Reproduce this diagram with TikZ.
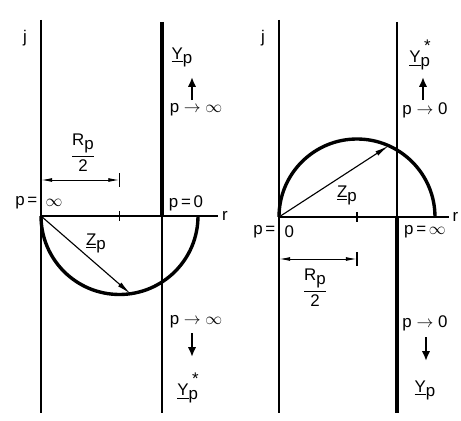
\documentclass[tikz,border=0pt]{standalone}
\usepackage{amsmath}
\usepackage{fontspec}
\setmainfont{Liberation Sans}
\usetikzlibrary{arrows.meta,calc}

\newcommand{\uvar}[1]{\underline{#1}\raisebox{-0.45ex}{p}}
\newcommand{\uvarc}[1]{\underline{#1}\raisebox{-0.45ex}{p}\kern-0.35em\raisebox{1.3ex}{*}}
\newcommand{\halfR}{$\dfrac{\mbox{R\raisebox{-0.45ex}{p}}}{\mbox{2}}$}

\begin{document}
\begin{tikzpicture}[x=0.25mm,y=-0.25mm,
    lbl/.style={font=\fontsize{12}{14}\selectfont,inner sep=1pt},
    axis/.style={line width=0.8pt},
    locus/.style={line width=2.4pt},
    dim/.style={{Latex[length=8pt,width=2.8pt]}-{Latex[length=8pt,width=2.8pt]},line width=0.7pt},
    vec/.style={-{Latex[length=10pt,width=3.6pt]},line width=0.8pt},
    move/.style={-{Latex[length=7pt,width=6pt]},line width=1.8pt}
  ]
  \useasboundingbox (0,0) rectangle (461,421);

  % left: Z_p below the r axis
  \coordinate (jLt) at (41,20);
  \coordinate (jLb) at (41,413);
  \coordinate (oL) at (41,216);
  \coordinate (cL) at (119.5,216);
  \coordinate (rL) at (218,216);
  \coordinate (yLt) at (162,22);
  \coordinate (yL0) at (162,216);
  \coordinate (yLb) at (162,413);
  \coordinate (tLa) at (119.5,211);
  \coordinate (tLb) at (119.5,221);
  \coordinate (zL) at ($(cL)+(82:78.5)$);
  \coordinate (dLa) at (41,180);
  \coordinate (dLb) at (119.5,180);
  \coordinate (bLa) at (119.5,173);
  \coordinate (bLb) at (119.5,187);
  \coordinate (uLa) at (192,100);
  \coordinate (uLb) at (192,77);
  \coordinate (wLa) at (192,333);
  \coordinate (wLb) at (192,357);

  \draw[axis] (jLt) -- (jLb);
  \draw[axis] (oL) -- (rL);
  \draw[locus] (yLt) -- (yL0);
  \draw[axis] (yL0) -- (yLb);
  \draw[axis] (tLa) -- (tLb);
  \draw[locus] (oL) arc[start angle=180,end angle=0,radius=78.5];
  \draw[vec] (oL) -- (zL);
  \draw[dim] (dLa) -- (dLb);
  \draw[axis] (bLa) -- (bLb);
  \draw[move] (uLa) -- (uLb);
  \draw[move] (wLa) -- (wLb);

  \node[lbl] (jL) at (25,38) {j};
  \node[lbl] (rLl) at (225,216) {r};
  \node[lbl] (YL) at (182,57) {\uvar{Y}};
  \node[lbl] (pLa) at (196,110) {p $\to\infty$};
  \node[lbl] (hL) at (83,153) {\halfR};
  \node[lbl,anchor=east] (pLi) at (39,203) {p\,=};
  \node[lbl,anchor=west] (pLj) at (44,203) {$\infty$};
  \node[lbl] (pL0) at (186,203) {p\,=\,0};
  \node[lbl] (ZL) at (96,243) {\uvar{Z}};
  \node[lbl] (pLb) at (196,322) {p $\to\infty$};
  \node[lbl] (YLc) at (188,388) {\uvarc{Y}};

  % right: Z_p above the r axis
  \coordinate (jRt) at (279,20);
  \coordinate (jRb) at (279,413);
  \coordinate (oR) at (279,217);
  \coordinate (cR) at (357,217);
  \coordinate (rR) at (449,217);
  \coordinate (yRt) at (397,22);
  \coordinate (yR0) at (397,217);
  \coordinate (yRb) at (397,413);
  \coordinate (tRa) at (357,212);
  \coordinate (tRb) at (357,222);
  \coordinate (zR) at ($(cR)+(-66:78)$);
  \coordinate (dRa) at (279,259);
  \coordinate (dRb) at (357,259);
  \coordinate (bRa) at (357,252);
  \coordinate (bRb) at (357,266);
  \coordinate (uRa) at (423,100);
  \coordinate (uRb) at (423,77);
  \coordinate (wRa) at (426,337);
  \coordinate (wRb) at (426,361);

  \draw[axis] (jRt) -- (jRb);
  \draw[axis] (oR) -- (rR);
  \draw[axis] (yRt) -- (yR0);
  \draw[locus] (yR0) -- (yRb);
  \draw[axis] (tRa) -- (tRb);
  \draw[locus] (oR) arc[start angle=180,end angle=360,radius=78];
  \draw[vec] (oR) -- (zR);
  \draw[dim] (dRa) -- (dRb);
  \draw[axis] (bRa) -- (bRb);
  \draw[move] (uRa) -- (uRb);
  \draw[move] (wRa) -- (wRb);

  \node[lbl] (jR) at (263,38) {j};
  \node[lbl,anchor=west] (rRl) at (451,217) {r};
  \node[lbl] (YRc) at (420,55) {\uvarc{Y}};
  \node[lbl] (pRa) at (425,110) {p $\to$ 0};
  \node[lbl] (ZR) at (347,195) {\uvar{Z}};
  \node[lbl,anchor=east] (pRi) at (277,232) {p\,=};
  \node[lbl,anchor=west] (pRj) at (283,232) {0};
  \node[lbl] (pRk) at (425,232) {p\,=\,$\infty$};
  \node[lbl] (hR) at (315,288) {\halfR};
  \node[lbl] (pRb) at (425,323) {p $\to$ 0};
  \node[lbl] (YR) at (425,390) {\uvar{Y}};
\end{tikzpicture}
\end{document}
